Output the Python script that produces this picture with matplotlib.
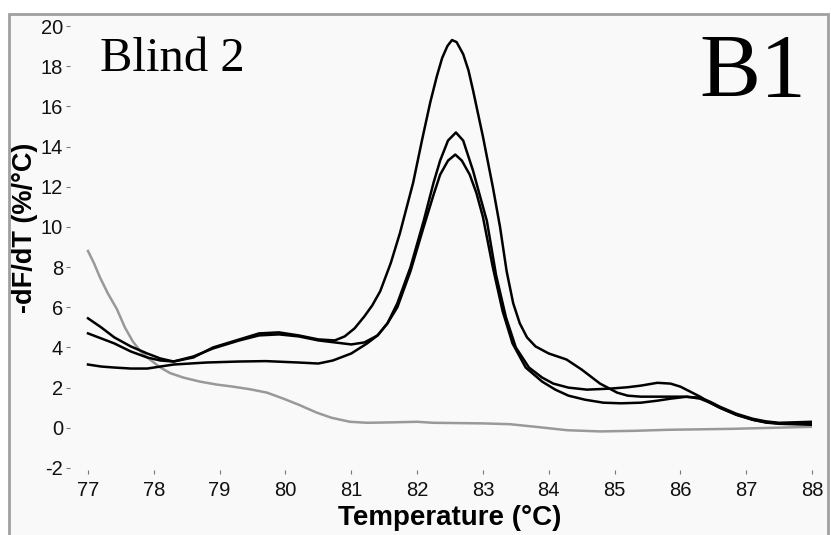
import matplotlib
matplotlib.use("Agg")
import matplotlib.pyplot as plt
from matplotlib.patches import Rectangle

plt.rcParams["axes.unicode_minus"] = False

# melt curves
t_a = [77.0, 77.2, 77.4, 77.65, 77.9, 78.1, 78.3, 78.6, 78.9, 79.3, 79.6, 79.9, 80.2, 80.5,
       80.75, 80.9, 81.05, 81.2, 81.32, 81.44, 81.6, 81.74, 81.94, 82.08, 82.2, 82.3, 82.38,
       82.46, 82.53, 82.6, 82.7, 82.78, 82.85, 83.0, 83.15, 83.26, 83.36, 83.46, 83.56, 83.67,
       83.8, 84.0, 84.27, 84.5, 84.78, 85.04, 85.2, 85.4, 85.7, 86.04, 86.3, 86.45, 86.6,
       86.85, 87.1, 87.3, 87.5, 88.0]
y_a = [5.45, 5.0, 4.5, 4.05, 3.7, 3.45, 3.3, 3.5, 4.0, 4.4, 4.7, 4.75, 4.6, 4.4,
       4.35, 4.55, 4.95, 5.55, 6.1, 6.8, 8.2, 9.7, 12.2, 14.4, 16.2, 17.5, 18.4,
       19.0, 19.3, 19.2, 18.6, 17.8, 16.8, 14.5, 12.0, 10.0, 7.8, 6.2, 5.2, 4.5,
       4.05, 3.7, 3.4, 2.9, 2.2, 1.75, 1.6, 1.55, 1.55, 1.55, 1.5, 1.3, 1.05,
       0.7, 0.45, 0.32, 0.25, 0.3]

t_b = [77.0, 77.2, 77.4, 77.65, 77.9, 78.1, 78.3, 78.6, 78.9, 79.3, 79.6, 79.9, 80.2, 80.5,
       80.75, 81.0, 81.2, 81.4, 81.55, 81.7, 81.9, 82.1, 82.25, 82.35, 82.47, 82.59, 82.7,
       82.85, 82.95, 83.06, 83.2, 83.35, 83.5, 83.7, 83.9, 84.07, 84.3, 84.58, 84.93, 85.2,
       85.4, 85.65, 85.85, 86.0, 86.15, 86.3, 86.45, 86.6, 86.85, 87.1, 87.3, 87.5, 88.0]
y_b = [4.7, 4.45, 4.2, 3.8, 3.5, 3.35, 3.3, 3.55, 3.95, 4.35, 4.6, 4.65, 4.55, 4.35,
       4.25, 4.15, 4.25, 4.6, 5.2, 6.2, 8.0, 10.3, 12.2, 13.3, 14.3, 14.7, 14.3,
       12.8, 11.6, 10.3, 7.6, 5.5, 4.0, 3.0, 2.5, 2.2, 2.0, 1.9, 1.95, 2.02,
       2.1, 2.24, 2.2, 2.05, 1.8, 1.55, 1.25, 1.0, 0.65, 0.4, 0.28, 0.22, 0.2]

t_c = [77.0, 77.2, 77.4, 77.65, 77.9, 78.1, 78.3, 78.8, 79.3, 79.7, 80.2, 80.5, 80.72, 81.0,
       81.24, 81.4, 81.55, 81.7, 81.9, 82.1, 82.25, 82.35, 82.47, 82.58, 82.68, 82.8, 82.9,
       83.0, 83.15, 83.3, 83.45, 83.65, 83.9, 84.1, 84.3, 84.55, 84.83, 85.1, 85.4, 85.65,
       85.85, 86.1, 86.3, 86.45, 86.6, 86.85, 87.1, 87.3, 87.5, 88.0]
y_c = [3.15, 3.05, 3.0, 2.95, 2.95, 3.05, 3.15, 3.25, 3.3, 3.32, 3.25, 3.2, 3.35, 3.7,
       4.2, 4.6, 5.2, 6.0, 7.8, 10.0, 11.6, 12.6, 13.3, 13.6, 13.3, 12.6, 11.7,
       10.5, 8.0, 5.8, 4.2, 3.0, 2.3, 1.9, 1.6, 1.4, 1.25, 1.22, 1.25, 1.35,
       1.45, 1.55, 1.45, 1.25, 1.0, 0.65, 0.4, 0.26, 0.2, 0.15]

t_ntc = [77.0, 77.09, 77.18, 77.3, 77.44, 77.56, 77.68, 77.8, 77.94, 78.1, 78.25, 78.45,
         78.7, 78.96, 79.2, 79.46, 79.72, 79.97, 80.2, 80.48, 80.7, 80.98, 81.24, 81.6,
         82.0, 82.24, 83.0, 83.41, 83.8, 84.28, 84.78, 85.3, 85.8, 86.8, 88.0]
y_ntc = [8.8, 8.2, 7.5, 6.7, 5.9, 5.0, 4.3, 3.8, 3.4, 3.0, 2.72, 2.5,
         2.3, 2.15, 2.05, 1.92, 1.75, 1.45, 1.15, 0.75, 0.5, 0.3, 0.25, 0.27,
         0.3, 0.25, 0.22, 0.18, 0.05, -0.12, -0.18, -0.15, -0.1, -0.05, 0.05]

xticks = list(range(77, 89))
yticks = list(range(-2, 21, 2))

fig = plt.figure(figsize=(8.31, 5.35), dpi=100)
fig.patch.set_facecolor("white")
frame = Rectangle((9 / 831, -0.05), 819 / 831, 1.05 - 14 / 535,
                  transform=fig.transFigure, facecolor="#f9f9f9",
                  edgecolor="#a0a0a0", linewidth=2, zorder=-10)
fig.patches.append(frame)

ax = fig.add_axes([70 / 831, 1 - 470 / 535, (812 - 70) / 831, (470 - 26) / 535])
ax.set_zorder(5)
ax.patch.set_alpha(0)
for s in ax.spines.values():
    s.set_visible(False)

ax.plot(t_ntc, y_ntc, color="#999999", lw=1.8, solid_joinstyle="round")
for t, y in [(t_c, y_c), (t_b, y_b), (t_a, y_a)]:
    ax.plot(t, y, color="black", lw=1.8, solid_joinstyle="round")

ax.set_xlim(77 - 18 / 65.8, 88)
ax.set_ylim(-2.1, 20)
ax.set_xticks(xticks)
ax.set_yticks(yticks)
ax.tick_params(axis="both", direction="out", length=3, width=0.8, color="#777777",
               labelsize=14.5, labelcolor="#111111")
ax.tick_params(axis="x", pad=5)
ax.tick_params(axis="y", pad=2)
for lab in ax.get_xticklabels() + ax.get_yticklabels():
    lab.set_family("Liberation Sans")

fig.text(450 / 831, 1 - 518 / 535, "Temperature (°C)", ha="center", va="center",
         fontsize=20, fontweight="bold", family="Liberation Sans", zorder=6)
fig.text(25 / 831, 1 - 228 / 535, "-dF/dT (%/°C)", ha="center", va="center", rotation=90,
         fontsize=19.5, fontweight="bold", family="Liberation Sans", zorder=6)
fig.text(100 / 831, 1 - 71 / 535, "Blind 2", ha="left", va="baseline",
         fontsize=35, family="Liberation Serif", zorder=6)
fig.text(806 / 831, 1 - 97 / 535, "B1", ha="right", va="baseline",
         fontsize=66, family="Liberation Serif", zorder=6)

fig.savefig("out.png", dpi=100)
